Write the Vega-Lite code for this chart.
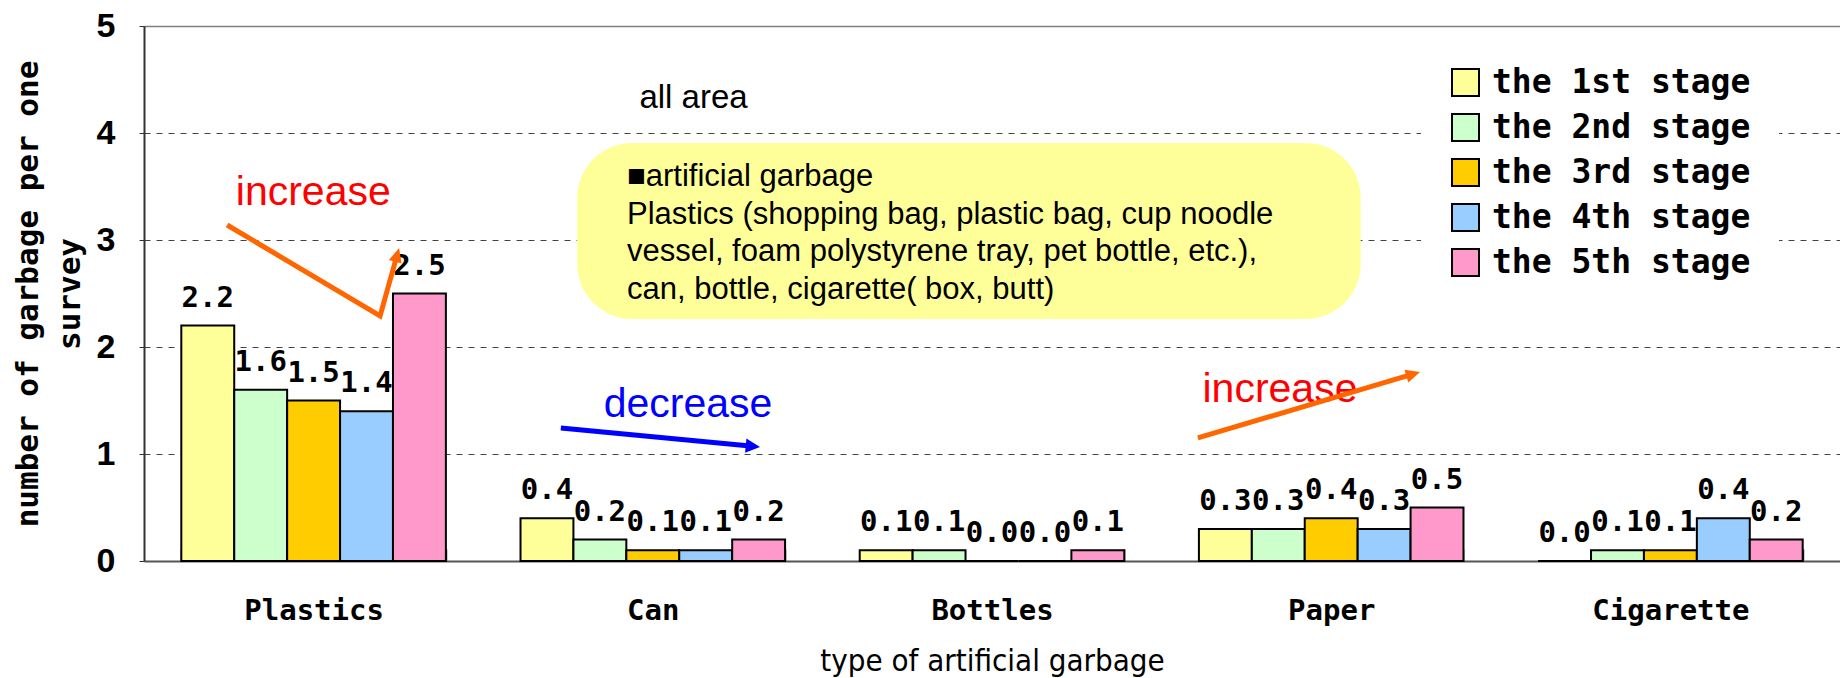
{
  "$schema": "https://vega.github.io/schema/vega-lite/v6.json",
  "width": 1696,
  "height": 535,
  "autosize": {"type": "none"},
  "padding": {"left": 144, "top": 26, "right": 0, "bottom": 117},
  "background": "white",
  "config": {"view": {"stroke": null}},
  "datasets": {
    "bars": [
      {"category": "Plastics", "stage": "the 1st stage", "value": 2.2},
      {"category": "Plastics", "stage": "the 2nd stage", "value": 1.6},
      {"category": "Plastics", "stage": "the 3rd stage", "value": 1.5},
      {"category": "Plastics", "stage": "the 4th stage", "value": 1.4},
      {"category": "Plastics", "stage": "the 5th stage", "value": 2.5},
      {"category": "Can", "stage": "the 1st stage", "value": 0.4},
      {"category": "Can", "stage": "the 2nd stage", "value": 0.2},
      {"category": "Can", "stage": "the 3rd stage", "value": 0.1},
      {"category": "Can", "stage": "the 4th stage", "value": 0.1},
      {"category": "Can", "stage": "the 5th stage", "value": 0.2},
      {"category": "Bottles", "stage": "the 1st stage", "value": 0.1},
      {"category": "Bottles", "stage": "the 2nd stage", "value": 0.1},
      {"category": "Bottles", "stage": "the 3rd stage", "value": 0.0},
      {"category": "Bottles", "stage": "the 4th stage", "value": 0.0},
      {"category": "Bottles", "stage": "the 5th stage", "value": 0.1},
      {"category": "Paper", "stage": "the 1st stage", "value": 0.3},
      {"category": "Paper", "stage": "the 2nd stage", "value": 0.3},
      {"category": "Paper", "stage": "the 3rd stage", "value": 0.4},
      {"category": "Paper", "stage": "the 4th stage", "value": 0.3},
      {"category": "Paper", "stage": "the 5th stage", "value": 0.5},
      {"category": "Cigarette", "stage": "the 1st stage", "value": 0.0},
      {"category": "Cigarette", "stage": "the 2nd stage", "value": 0.1},
      {"category": "Cigarette", "stage": "the 3rd stage", "value": 0.1},
      {"category": "Cigarette", "stage": "the 4th stage", "value": 0.4},
      {"category": "Cigarette", "stage": "the 5th stage", "value": 0.2}
    ],
    "box": [
      {"x1": 1.277, "x2": 3.587, "y1": 2.262, "y2": 3.907}
    ],
    "notes": [
      {"note": "all area", "nx": 1.62, "ny": 4.234, "kind": "title"},
      {"note": "increase", "nx": 0.499, "ny": 3.327, "kind": "increase"},
      {"note": "increase", "nx": 3.349, "ny": 1.486, "kind": "increase"},
      {"note": "decrease", "nx": 1.604, "ny": 1.346, "kind": "decrease"},
      {"note": "■artificial garbage\nPlastics (shopping bag, plastic bag, cup noodle\nvessel, foam polystyrene tray, pet bottle, etc.),\ncan, bottle, cigarette( box, butt)", "nx": 1.424, "ny": 3.505, "kind": "box"}
    ],
    "arrows": [
      {"arrow": "plastics", "seq": 1, "ax": 0.245, "ay": 3.140},
      {"arrow": "plastics", "seq": 2, "ax": 0.696, "ay": 2.290},
      {"arrow": "plastics", "seq": 3, "ax": 0.744, "ay": 2.836},
      {"arrow": "can", "seq": 1, "ax": 1.229, "ay": 1.243},
      {"arrow": "can", "seq": 2, "ax": 1.787, "ay": 1.075},
      {"arrow": "paper", "seq": 1, "ax": 3.107, "ay": 1.150},
      {"arrow": "paper", "seq": 2, "ax": 3.733, "ay": 1.739}
    ],
    "heads": [
      {"arrow": "plastics", "ax": 0.752, "ay": 2.925},
      {"arrow": "can", "ax": 1.816, "ay": 1.065},
      {"arrow": "paper", "ax": 3.762, "ay": 1.766}
    ]
  },
  "layer": [
    {
      "data": {"name": "bars"},
      "mark": {"type": "bar", "stroke": "black", "strokeWidth": 2, "opacity": 1},
      "encoding": {
        "x": {
          "field": "category", "type": "nominal",
          "sort": ["Plastics", "Can", "Bottles", "Paper", "Cigarette"],
          "scale": {"paddingInner": 0.22, "paddingOuter": 0.11},
          "axis": {
            "title": "type of artificial garbage",
            "titleFont": "Liberation Sans Narrow, DejaVu Sans Condensed, Liberation Sans",
            "titleFontSize": 31, "titleFontWeight": "normal", "titleColor": "black", "titlePadding": 21,
            "labelAngle": 0, "labelFont": "DejaVu Sans Mono", "labelFontSize": 29, "labelFontWeight": "bold",
            "labelColor": "black", "labelPadding": 47,
            "tickBand": "extent", "tickSize": -12, "tickColor": "#333333", "tickWidth": 1.5, "ticks": true,
            "domainColor": "#555555", "domainWidth": 2, "grid": false
          }
        },
        "xOffset": {
          "field": "stage", "type": "nominal",
          "sort": ["the 1st stage", "the 2nd stage", "the 3rd stage", "the 4th stage", "the 5th stage"],
          "scale": {"paddingInner": 0, "paddingOuter": 0}
        },
        "y": {
          "field": "value", "type": "quantitative",
          "scale": {"domain": [0, 5], "nice": false},
          "axis": {
            "title": ["number of garbage per one", "survey"],
            "titleFont": "DejaVu Sans Mono", "titleFontSize": 31, "titleFontWeight": "bold",
            "titleColor": "black", "titleLineHeight": 42, "titleX": -100, "titleAngle": -90,
            "values": [0, 1, 2, 3, 4, 5], "format": "d",
            "labelFont": "Liberation Sans Narrow, Liberation Sans",
            "labelFontSize": 34, "labelFontWeight": "bold", "labelColor": "black", "labelPadding": 24,
            "tickSize": 5, "tickColor": "#333333",
            "domainColor": "#333333", "domainWidth": 2,
            "grid": true, "gridColor": "#444444", "gridDash": [6, 6], "gridWidth": 1
          }
        },
        "color": {
          "field": "stage", "type": "nominal",
          "scale": {
            "domain": ["the 1st stage", "the 2nd stage", "the 3rd stage", "the 4th stage", "the 5th stage"],
            "range": ["#FFFF99", "#CCFFCC", "#FFCC00", "#99CCFF", "#FF99CC"]
          },
          "legend": {
            "orient": "none", "legendX": 1277, "legendY": 12, "title": null,
            "symbolType": "square", "symbolSize": 729, "symbolStrokeColor": "black",
            "symbolStrokeWidth": 2, "symbolOpacity": 1,
            "labelFont": "DejaVu Sans Mono", "labelFontSize": 33, "labelFontWeight": "bold",
            "labelColor": "black", "labelOffset": 10, "labelLimit": 500,
            "rowPadding": 10, "fillColor": "white", "padding": 28
          }
        }
      }
    },
    {
      "data": {"name": "bars"},
      "mark": {"type": "text", "font": "DejaVu Sans Mono", "fontWeight": "bold", "fontSize": 29,
               "baseline": "middle", "dy": -28, "color": "black"},
      "encoding": {
        "x": {"field": "category", "type": "nominal", "sort": ["Plastics", "Can", "Bottles", "Paper", "Cigarette"],
              "scale": {"paddingInner": 0.22, "paddingOuter": 0.11}, "axis": null},
        "xOffset": {"field": "stage", "type": "nominal",
                    "sort": ["the 1st stage", "the 2nd stage", "the 3rd stage", "the 4th stage", "the 5th stage"],
                    "scale": {"paddingInner": 0, "paddingOuter": 0}},
        "y": {"field": "value", "type": "quantitative", "scale": {"domain": [0, 5], "nice": false}},
        "text": {"field": "value", "type": "quantitative", "format": ".1f"}
      }
    },
    {
      "data": {"name": "box"},
      "mark": {"type": "rect", "fill": "#FFFF99", "cornerRadius": 55},
      "encoding": {
        "x": {"field": "x1", "type": "quantitative", "scale": {"domain": [0, 5], "nice": false, "zero": false},
              "axis": {"orient": "top", "title": null, "labels": false, "ticks": false, "grid": false,
                       "domain": true, "domainColor": "#808080", "domainWidth": 1.5}},
        "x2": {"field": "x2"},
        "y": {"field": "y1", "type": "quantitative", "scale": {"domain": [0, 5], "nice": false}},
        "y2": {"field": "y2"}
      }
    },
    {
      "data": {"name": "notes"},
      "transform": [{"filter": "datum.kind === 'box'"}],
      "mark": {"type": "text", "font": "Liberation Sans", "fontSize": 31, "align": "left",
               "baseline": "alphabetic", "lineBreak": "\n", "lineHeight": 37.7, "color": "black"},
      "encoding": {
        "x": {"field": "nx", "type": "quantitative", "scale": {"domain": [0, 5], "nice": false, "zero": false}, "axis": null},
        "y": {"field": "ny", "type": "quantitative", "scale": {"domain": [0, 5], "nice": false}},
        "text": {"field": "note"}
      }
    },
    {
      "data": {"name": "notes"},
      "transform": [{"filter": "datum.kind === 'title'"}],
      "mark": {"type": "text", "font": "Liberation Sans", "fontSize": 33, "align": "center",
               "baseline": "alphabetic", "color": "black"},
      "encoding": {
        "x": {"field": "nx", "type": "quantitative", "scale": {"domain": [0, 5], "nice": false, "zero": false}, "axis": null},
        "y": {"field": "ny", "type": "quantitative", "scale": {"domain": [0, 5], "nice": false}},
        "text": {"field": "note"}
      }
    },
    {
      "data": {"name": "notes"},
      "transform": [{"filter": "datum.kind === 'increase'"}],
      "mark": {"type": "text", "font": "Liberation Sans", "fontSize": 41, "align": "center",
               "baseline": "alphabetic", "color": "#FF0000"},
      "encoding": {
        "x": {"field": "nx", "type": "quantitative", "scale": {"domain": [0, 5], "nice": false, "zero": false}, "axis": null},
        "y": {"field": "ny", "type": "quantitative", "scale": {"domain": [0, 5], "nice": false}},
        "text": {"field": "note"}
      }
    },
    {
      "data": {"name": "notes"},
      "transform": [{"filter": "datum.kind === 'decrease'"}],
      "mark": {"type": "text", "font": "Liberation Sans", "fontSize": 41, "align": "center",
               "baseline": "alphabetic", "color": "#0000FF"},
      "encoding": {
        "x": {"field": "nx", "type": "quantitative", "scale": {"domain": [0, 5], "nice": false, "zero": false}, "axis": null},
        "y": {"field": "ny", "type": "quantitative", "scale": {"domain": [0, 5], "nice": false}},
        "text": {"field": "note"}
      }
    },
    {
      "data": {"name": "arrows"},
      "transform": [{"filter": "datum.arrow !== 'can'"}],
      "mark": {"type": "line", "color": "#FF6600", "strokeWidth": 5, "strokeCap": "butt", "strokeJoin": "miter"},
      "encoding": {
        "x": {"field": "ax", "type": "quantitative", "scale": {"domain": [0, 5], "nice": false, "zero": false}, "axis": null},
        "y": {"field": "ay", "type": "quantitative", "scale": {"domain": [0, 5], "nice": false}},
        "detail": {"field": "arrow"},
        "order": {"field": "seq", "type": "quantitative"}
      }
    },
    {
      "data": {"name": "arrows"},
      "transform": [{"filter": "datum.arrow === 'can'"}],
      "mark": {"type": "line", "color": "#0000FF", "strokeWidth": 5, "strokeCap": "butt"},
      "encoding": {
        "x": {"field": "ax", "type": "quantitative", "scale": {"domain": [0, 5], "nice": false, "zero": false}, "axis": null},
        "y": {"field": "ay", "type": "quantitative", "scale": {"domain": [0, 5], "nice": false}},
        "order": {"field": "seq", "type": "quantitative"}
      }
    },
    {
      "data": {"name": "heads"},
      "transform": [{"filter": "datum.arrow === 'plastics'"}],
      "mark": {"type": "point", "shape": "M0,0L0.6,1.3L-0.6,1.3Z", "size": 484, "angle": 15.6,
               "filled": true, "color": "#FF6600", "opacity": 1},
      "encoding": {
        "x": {"field": "ax", "type": "quantitative", "scale": {"domain": [0, 5], "nice": false, "zero": false}, "axis": null},
        "y": {"field": "ay", "type": "quantitative", "scale": {"domain": [0, 5], "nice": false}}
      }
    },
    {
      "data": {"name": "heads"},
      "transform": [{"filter": "datum.arrow === 'can'"}],
      "mark": {"type": "point", "shape": "M0,0L0.65,1.3L-0.65,1.3Z", "size": 484, "angle": 95.5,
               "filled": true, "color": "#0000FF", "opacity": 1},
      "encoding": {
        "x": {"field": "ax", "type": "quantitative", "scale": {"domain": [0, 5], "nice": false, "zero": false}, "axis": null},
        "y": {"field": "ay", "type": "quantitative", "scale": {"domain": [0, 5], "nice": false}}
      }
    },
    {
      "data": {"name": "heads"},
      "transform": [{"filter": "datum.arrow === 'paper'"}],
      "mark": {"type": "point", "shape": "M0,0L0.6,1.3L-0.6,1.3Z", "size": 484, "angle": 73.4,
               "filled": true, "color": "#FF6600", "opacity": 1},
      "encoding": {
        "x": {"field": "ax", "type": "quantitative", "scale": {"domain": [0, 5], "nice": false, "zero": false}, "axis": null},
        "y": {"field": "ay", "type": "quantitative", "scale": {"domain": [0, 5], "nice": false}}
      }
    }
  ],
  "resolve": {"scale": {"x": "independent"}}
}
